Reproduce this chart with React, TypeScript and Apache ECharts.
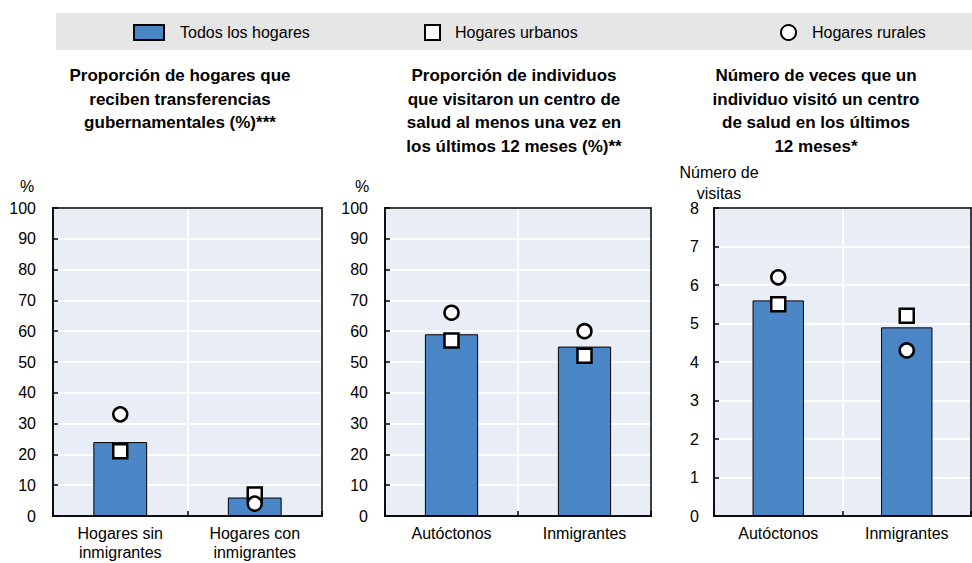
import React, { useEffect, useRef } from "react";
import * as echarts from "echarts";

const seriesNames = ["Todos los hogares", "Hogares urbanos", "Hogares rurales"];

const titles = [
  "Proporción de hogares que\nreciben transferencias\ngubernamentales (%)***",
  "Proporción de individuos\nque visitaron un centro de\nsalud al menos una vez en\nlos últimos 12 meses (%)**",
  "Número de veces que un\nindividuo visitó un centro\nde salud en los últimos\n12 meses*",
];

const unitLabels = ["%", "%", "Número de\nvisitas"];

const cats1 = ["Hogares sin\ninmigrantes", "Hogares con\ninmigrantes"];
const cats2 = ["Autóctonos", "Inmigrantes"];
const cats3 = ["Autóctonos", "Inmigrantes"];

const all1 = [24, 6];
const urban1 = [21, 7];
const rural1 = [33, 4];

const all2 = [59, 55];
const urban2 = [57, 52];
const rural2 = [66, 60];

const all3 = [5.6, 4.9];
const urban3 = [5.5, 5.2];
const rural3 = [6.2, 4.3];

const yMax = [100, 100, 8];
const yInterval = [10, 10, 1];

const BLUE = "#4A86C6";
const PLOT_BG = "#E9EDF6";
const FONT = "Liberation Sans, Arial, sans-serif";

export default function App() {
  const ref = useRef<HTMLDivElement>(null);

  useEffect(() => {
    if (!ref.current) return;
    const chart = echarts.init(ref.current, undefined, { renderer: "svg" });

    const grids = [
      { left: 53, top: 208, width: 269, height: 308 },
      { left: 385, top: 208, width: 266, height: 308 },
      { left: 714, top: 208, width: 257, height: 308 },
    ];
    const catsList = [cats1, cats2, cats3];
    const data = [
      [all1, urban1, rural1],
      [all2, urban2, rural2],
      [all3, urban3, rural3],
    ];
    const labelMargins = [17, 17, 15];

    const series: any[] = [];
    data.forEach((d, i) => {
      series.push({
        name: seriesNames[0],
        type: "bar",
        xAxisIndex: i,
        yAxisIndex: i,
        data: d[0],
        barWidth: "40%",
        itemStyle: { color: BLUE, borderColor: "#000", borderWidth: 1 },
      });
      series.push({
        name: seriesNames[1],
        type: "scatter",
        xAxisIndex: i,
        yAxisIndex: i,
        data: d[1],
        symbol: "rect",
        symbolSize: 14,
        z: 3,
        itemStyle: { color: "#fff", borderColor: "#000", borderWidth: 2.5, opacity: 1 },
      });
      series.push({
        name: seriesNames[2],
        type: "scatter",
        xAxisIndex: i,
        yAxisIndex: i,
        data: d[2],
        symbol: "circle",
        symbolSize: 14,
        z: 4,
        itemStyle: { color: "#fff", borderColor: "#000", borderWidth: 2.5, opacity: 1 },
      });
    });

    const legendText = { fontSize: 16, color: "#000", fontFamily: FONT };

    const option: any = {
      animation: false,
      textStyle: { fontFamily: FONT },
      grid: grids.map((g) => ({
        ...g,
        show: true,
        backgroundColor: PLOT_BG,
        borderColor: "#000",
        borderWidth: 1.5,
        containLabel: false,
      })),
      legend: [
        {
          data: [{ name: seriesNames[0], icon: "rect" }],
          left: 133,
          top: 24,
          padding: 0,
          itemWidth: 30,
          itemHeight: 15,
          selectedMode: false,
          textStyle: { ...legendText, padding: [0, 0, 0, 11] },
        },
        {
          data: [{ name: seriesNames[1], icon: "rect" }],
          left: 424,
          top: 24,
          padding: 0,
          itemWidth: 15,
          itemHeight: 15,
          selectedMode: false,
          textStyle: { ...legendText, padding: [0, 0, 0, 10] },
        },
        {
          data: [{ name: seriesNames[2], icon: "circle" }],
          left: 780,
          top: 24,
          padding: 0,
          itemWidth: 15,
          itemHeight: 15,
          selectedMode: false,
          textStyle: { ...legendText, padding: [0, 0, 0, 11] },
        },
      ],
      xAxis: catsList.map((c, i) => ({
        type: "category",
        gridIndex: i,
        data: c,
        axisLine: { show: true, lineStyle: { color: "#000", width: 1.5 } },
        axisTick: { show: true, inside: true, length: 5, interval: 0, lineStyle: { color: "#000", width: 1.5 } },
        axisLabel: { fontSize: 16, color: "#000", lineHeight: 19, margin: 8, interval: 0, fontFamily: FONT },
        splitLine: { show: true, interval: 0, lineStyle: { color: "#fff", width: 2 } },
      })),
      yAxis: yMax.map((m, i) => ({
        type: "value",
        gridIndex: i,
        min: 0,
        max: m,
        interval: yInterval[i],
        axisLine: { show: true, lineStyle: { color: "#000", width: 1.5 } },
        axisTick: { show: true, inside: true, length: 5, lineStyle: { color: "#000", width: 1.5 } },
        axisLabel: { fontSize: 16, color: "#000", margin: labelMargins[i], fontFamily: FONT },
        splitLine: { show: true, lineStyle: { color: "#fff", width: 2 } },
      })),
      graphic: [
        {
          type: "rect",
          left: 56,
          top: 13,
          shape: { width: 916, height: 37 },
          style: { fill: "#E6E6E6" },
          z: -10,
          silent: true,
        },
        ...grids.map((g) => ({
          type: "rect",
          shape: { x: g.left, y: g.top, width: g.width, height: g.height },
          style: { fill: "none", stroke: "#000", lineWidth: 1.5 },
          z: 100,
          silent: true,
        })),
        ...titles.map((t, i) => ({
          type: "text",
          x: [180, 514, 816][i],
          y: 64,
          style: {
            text: t,
            fontSize: 17,
            fontWeight: "bold",
            fontFamily: FONT,
            fill: "#000",
            textAlign: "center",
            textVerticalAlign: "top",
            lineHeight: 23.5,
          },
        })),
        {
          type: "text",
          x: 27,
          y: 178,
          style: { text: unitLabels[0], fontSize: 16, fontFamily: FONT, fill: "#000", textAlign: "center", textVerticalAlign: "top" },
        },
        {
          type: "text",
          x: 362,
          y: 178,
          style: { text: unitLabels[1], fontSize: 16, fontFamily: FONT, fill: "#000", textAlign: "center", textVerticalAlign: "top" },
        },
        {
          type: "text",
          x: 719,
          y: 162,
          style: {
            text: unitLabels[2],
            fontSize: 16,
            fontFamily: FONT,
            fill: "#000",
            textAlign: "center",
            textVerticalAlign: "top",
            lineHeight: 21,
          },
        },
      ],
      series,
    };

    chart.setOption(option);
    return () => chart.dispose();
  }, []);

  return <div ref={ref} style={{ width: 972, height: 563, position: "absolute", left: 0, top: 0 }} />;
}
